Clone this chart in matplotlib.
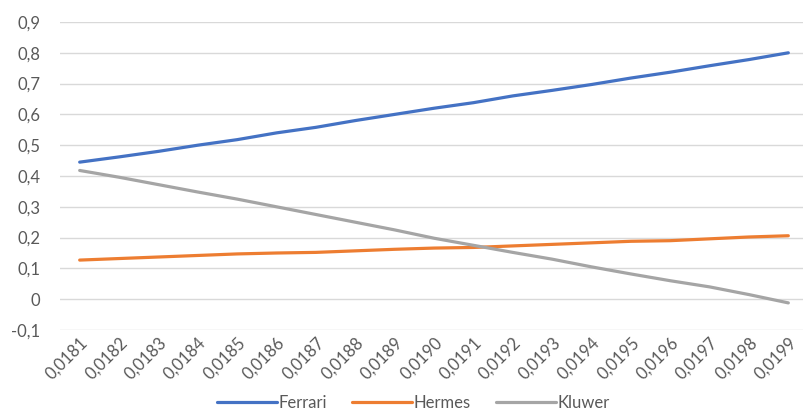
import matplotlib
matplotlib.use("Agg")
import matplotlib.pyplot as plt
from matplotlib.transforms import ScaledTranslation

categories = ["0,0181", "0,0182", "0,0183", "0,0184", "0,0185", "0,0186", "0,0187",
              "0,0188", "0,0189", "0,0190", "0,0191", "0,0192", "0,0193", "0,0194",
              "0,0195", "0,0196", "0,0197", "0,0198", "0,0199"]
ferrari = [0.445, 0.462, 0.480, 0.500, 0.518, 0.540, 0.558, 0.580, 0.600, 0.620,
           0.638, 0.660, 0.678, 0.697, 0.718, 0.737, 0.758, 0.778, 0.800]
hermes = [0.127, 0.132, 0.137, 0.142, 0.147, 0.150, 0.152, 0.157, 0.162, 0.166,
          0.168, 0.173, 0.178, 0.183, 0.188, 0.190, 0.196, 0.202, 0.206]
kluwer = [0.418, 0.396, 0.372, 0.348, 0.325, 0.300, 0.275, 0.250, 0.225, 0.198,
          0.175, 0.152, 0.130, 0.105, 0.082, 0.060, 0.040, 0.015, -0.012]
yticks = [-0.1, 0, 0.1, 0.2, 0.3, 0.4, 0.5, 0.6, 0.7, 0.8, 0.9]
ytick_labels = ["-0,1", "0", "0,1", "0,2", "0,3", "0,4", "0,5", "0,6", "0,7", "0,8", "0,9"]

plt.rcParams['font.family'] = ['Lato', 'DejaVu Sans']
text_color = "#595959"
fs = 12

fig = plt.figure(figsize=(8.04, 4.12), dpi=100)
ax = fig.add_axes([60/804, 1-330/412, (808-60)/804, (330-22)/412])

x = list(range(len(categories)))
ax.plot(x, ferrari, color="#4472C4", lw=2.3, solid_capstyle="round", label="Ferrari")
ax.plot(x, hermes, color="#ED7D31", lw=2.3, solid_capstyle="round", label="Hermes")
ax.plot(x, kluwer, color="#A5A5A5", lw=2.3, solid_capstyle="round", label="Kluwer")

ax.set_xlim(-0.5, len(categories) - 0.5)
ax.set_ylim(-0.1, 0.9)
ax.set_yticks(yticks)
ax.set_yticklabels(ytick_labels)
ax.set_xticks(x)
ax.set_xticklabels(categories, rotation=45, ha="right", va="top", rotation_mode="anchor")
for lab in ax.get_xticklabels():
    lab.set_transform(lab.get_transform() + ScaledTranslation(5/100, 11/100, fig.dpi_scale_trans))

ax.tick_params(axis="both", length=0, labelsize=fs, colors=text_color)
ax.tick_params(axis="y", pad=14)
ax.grid(axis="y", color="#D9D9D9", lw=1)
ax.set_axisbelow(True)
for s in ax.spines.values():
    s.set_visible(False)

fig.legend(loc="center", bbox_to_anchor=(413/804, 1-403/412), ncol=3, frameon=False,
           fontsize=fs, labelcolor=text_color, handlelength=3.6, handletextpad=0.1,
           columnspacing=1.5)

fig.savefig("out.png", dpi=100)
